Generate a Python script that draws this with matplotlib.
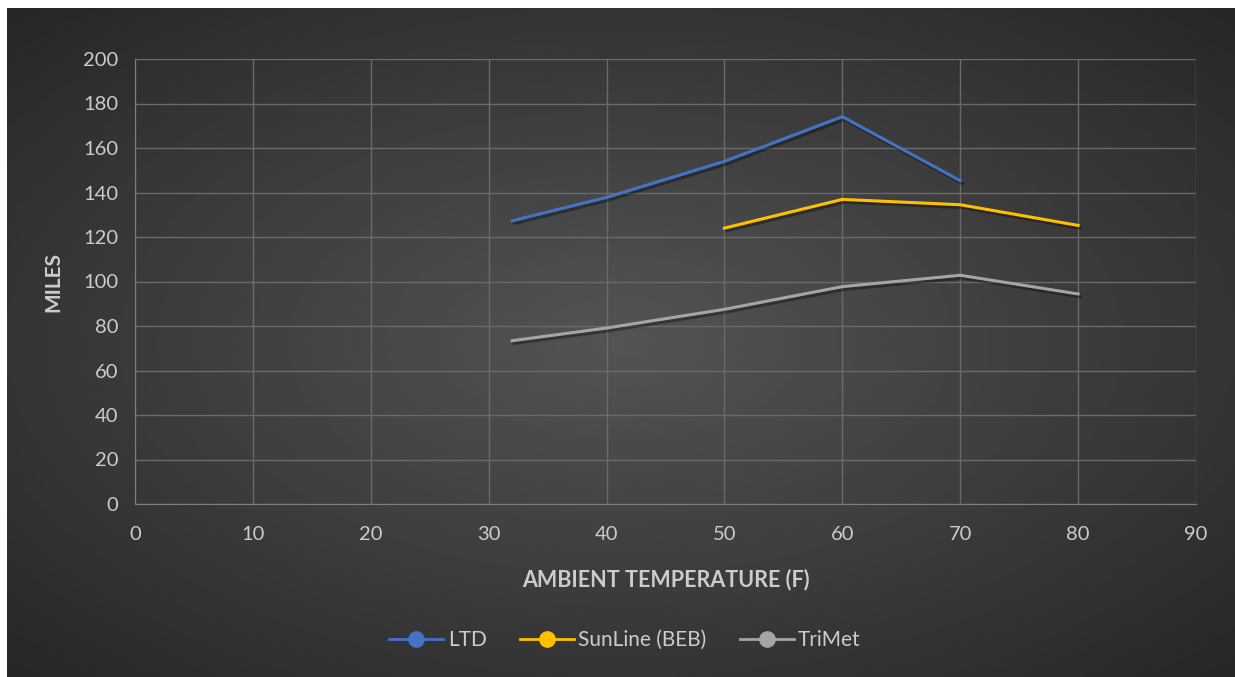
import numpy as np
import matplotlib
matplotlib.use("Agg")
import matplotlib.pyplot as plt
import matplotlib.patheffects as pe

plt.rcParams['font.family'] = ['Lato', 'DejaVu Sans']

# data
ltd_temp = [32, 40, 50, 60, 70]
ltd_miles = [127.3, 137.8, 154.0, 174.1, 145.3]
sun_temp = [50, 60, 70, 80]
sun_miles = [124.0, 136.9, 134.5, 125.2]
tri_temp = [32, 40, 50, 60, 70, 80]
tri_miles = [73.4, 79.1, 87.5, 97.7, 102.8, 94.4]

series = [("LTD", ltd_temp, ltd_miles, "#4472c4"),
          ("SunLine (BEB)", sun_temp, sun_miles, "#ffc000"),
          ("TriMet", tri_temp, tri_miles, "#a5a5a5")]

W, H = 1235, 677
fig = plt.figure(figsize=(W / 100, H / 100), dpi=100)
fig.patch.set_facecolor("white")

# radial gradient background (dark chart area with white strip top/left)
bg = fig.add_axes([7 / W, 0, 1 - 7 / W, 1 - 8 / H])
yy, xx = np.mgrid[0:1:300j, 0:1:600j]
r = np.sqrt(((xx - 0.5) / 0.75) ** 2 + ((yy - 0.5) / 0.75) ** 2)
val = np.clip(1 - r / 0.95, 0, 1)
img = 0.15 + 0.18 * val
bg.imshow(img, cmap="gray", vmin=0, vmax=1, aspect="auto", extent=[0, 1, 0, 1],
          interpolation="bilinear")
bg.axis("off")

ax = fig.add_axes([135 / W, 1 - 504 / H, (1196 - 135) / W, (504 - 59) / H])
ax.set_facecolor("none")
ax.set_xlim(0, 90)
ax.set_ylim(0, 200)
ax.set_xticks(np.arange(0, 91, 10))
ax.set_yticks(np.arange(0, 201, 20))
ax.grid(True, color="#6a6a6a", linewidth=1)
ax.set_axisbelow(True)
for s in ["top", "right"]:
    ax.spines[s].set_visible(False)
for s in ["left", "bottom"]:
    ax.spines[s].set_color("#7f7f7f")
ax.tick_params(length=0, colors="#cccccc", labelsize=14.5)
ax.tick_params(axis="x", pad=16)
ax.tick_params(axis="y", pad=12)

shadow = [pe.SimpleLineShadow(offset=(1.5, -2), shadow_color="black", alpha=0.35), pe.Normal()]
for name, x, y, c in series:
    ax.plot(x, y, color=c, linewidth=2.2, label=name, path_effects=shadow)

ax.set_xlabel("AMBIENT TEMPERATURE (F)", fontsize=15.5, fontweight="bold",
              color="#cccccc", labelpad=18)
ax.set_ylabel("MILES", fontsize=15, fontweight="bold", color="#cccccc", labelpad=14)

handles = [plt.Line2D([], [], color=c, linewidth=2, marker="o", markersize=11)
           for _, _, _, c in series]
fig.legend(handles, [s[0] for s in series], loc="center", bbox_to_anchor=(625 / W, 1 - 640 / H),
           ncol=3, frameon=False, fontsize=15, labelcolor="#cccccc",
           handlelength=2.6, columnspacing=1.6, handletextpad=0.2)

fig.savefig("out.png", dpi=100)
